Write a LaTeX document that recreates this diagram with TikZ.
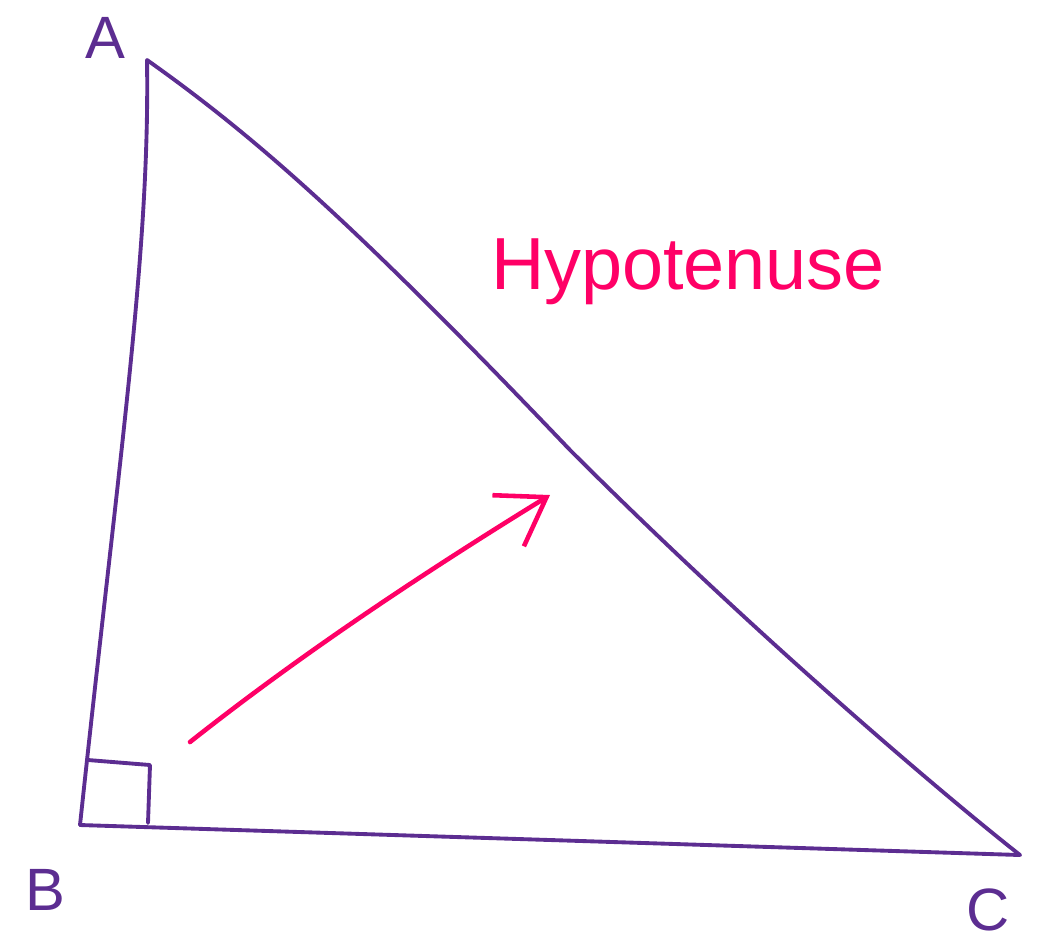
\documentclass[tikz,border=0pt]{standalone}
\usepackage{fontspec}
\setmainfont{Liberation Sans}
\usetikzlibrary{arrows.meta}
\definecolor{penpurple}{HTML}{5C2D91}
\definecolor{penpink}{HTML}{FF0066}
\begin{document}
\begin{tikzpicture}[
  side/.style={draw=penpurple, line width=1.1pt, line cap=round, line join=round},
  vertex/.style={text=penpurple, font=\fontsize{17}{20}\selectfont, inner sep=0pt},
  note/.style={text=penpink, font=\fontsize{21}{24}\selectfont, inner sep=0pt},
  pointer/.style={draw=penpink, line width=1.3pt, line cap=round,
    -{Straight Barb[length=4.5mm, width=6mm, line width=1.3pt]}}
]
\useasboundingbox (0,0) rectangle (10.52,-9.38);
% corners of the triangle
\coordinate (a) at (1.47,-0.60);
\coordinate (b) at (0.80,-8.25);
\coordinate (c) at (10.20,-8.55);
\node[vertex] (la) at (1.05,-0.38) {A};
\node[vertex] (lb) at (0.45,-8.90) {B};
\node[vertex] (lc) at (9.88,-9.10) {C};
% sides
\draw[side] (b) -- (c);
\draw[side] (b) .. controls (1.20,-4.5) and (1.50,-2.5) .. (a);
\draw[side] (a) .. controls (2.60,-1.40) and (3.60,-2.30) .. (5.70,-4.50)
  .. controls (7.60,-6.40) and (9.50,-8.00) .. (c);
% right angle mark
\coordinate (sq1) at (0.88,-7.60);
\coordinate (sq2) at (1.50,-7.65);
\coordinate (sq3) at (1.48,-8.23);
\draw[side] (sq1) -- (sq2) -- (sq3);
% label and arrow
\node[note] (hyp) at (6.88,-2.72) {Hypotenuse};
\coordinate (tail) at (1.90,-7.42);
\coordinate (tip) at (5.50,-4.95);
\draw[pointer] (tail) .. controls (3.0,-6.55) and (4.2,-5.75) .. (tip);
\end{tikzpicture}
\end{document}
